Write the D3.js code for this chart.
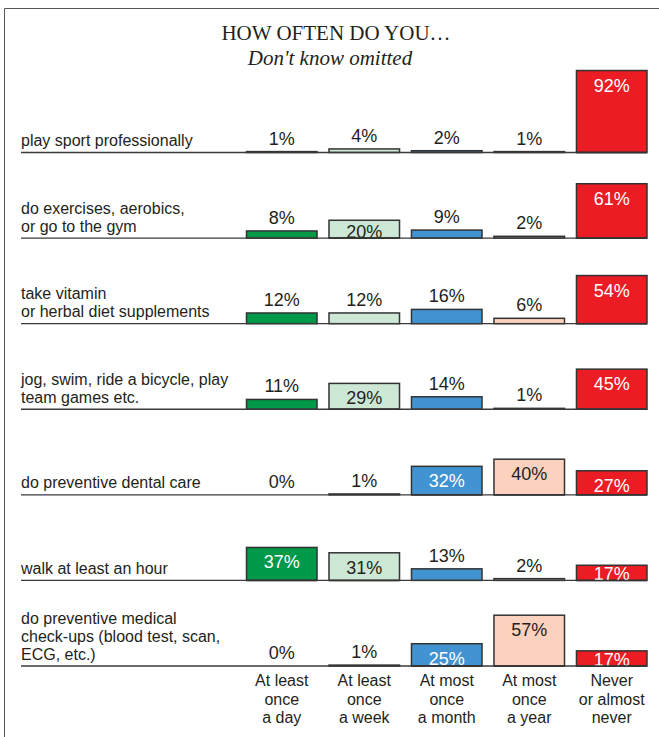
<!DOCTYPE html>
<html>
<head>
<meta charset="utf-8">
<script src="https://cdn.jsdelivr.net/npm/d3@7"></script>
<style>
  html, body { margin: 0; padding: 0; background: #fff; }
  svg { display: block; }
</style>
</head>
<body>
<div id="chart"></div>
<script>
// Activities (row labels, one entry per line of text)
const activities = [
  ["play sport professionally"],
  ["do exercises, aerobics,", "or go to the gym"],
  ["take vitamin", "or herbal diet supplements"],
  ["jog, swim, ride a bicycle, play", "team games etc."],
  ["do preventive dental care"],
  ["walk at least an hour"],
  ["do preventive medical", "check-ups (blood test, scan,", "ECG, etc.)"]
];

// Frequency categories (column labels, one entry per line)
const frequencies = [
  ["At least", "once", "a day"],
  ["At least", "once", "a week"],
  ["At most", "once", "a month"],
  ["At most", "once", "a year"],
  ["Never", "or almost", "never"]
];

// Percent of respondents per activity, one array per frequency
const atLeastDaily   = [1, 8, 12, 11, 0, 37, 0];
const atLeastWeekly  = [4, 20, 12, 29, 1, 31, 1];
const atMostMonthly  = [2, 9, 16, 14, 32, 13, 25];
const atMostYearly   = [1, 2, 6, 1, 40, 2, 57];
const neverOrAlmost  = [92, 61, 54, 45, 27, 17, 17];

const seriesValues = [atLeastDaily, atLeastWeekly, atMostMonthly, atMostYearly, neverOrAlmost];
const seriesColors = ["#009849", "#cde7d5", "#4193d1", "#fcd2bf", "#ec1c24"];
const insideText   = ["#ffffff", "#231f20", "#ffffff", "#231f20", "#ffffff"];

const title = "HOW OFTEN DO YOU\u2026";
const subtitle = "Don't know omitted";

const W = 659, H = 737;
const svg = d3.select("#chart").append("svg")
  .attr("width", W).attr("height", H);

// frame: top and left rules
svg.append("path")
  .attr("d", `M4.5,${H} V8.5 H${W}`)
  .attr("fill", "none").attr("stroke", "#555").attr("stroke-width", 1);

svg.append("text")
  .attr("x", 336).attr("y", 39.5)
  .attr("text-anchor", "middle")
  .attr("font-family", "'Liberation Serif', 'Times New Roman', serif")
  .attr("font-size", 21).attr("fill", "#231f20")
  .text(title);

svg.append("text")
  .attr("x", 330).attr("y", 64.5)
  .attr("text-anchor", "middle")
  .attr("font-family", "'Liberation Serif', 'Times New Roman', serif")
  .attr("font-style", "italic")
  .attr("font-size", 21).attr("fill", "#231f20")
  .text(subtitle);

const colIdx = d3.range(frequencies.length);
const rowIdx = d3.range(activities.length);

const x = d3.scaleBand().domain(colIdx).range([246.5, 647]).paddingInner(0.145).paddingOuter(0);
const rowBase = d3.scalePoint().domain(rowIdx).range([152.5, 666]);
const h = d3.scaleLinear().domain([0, 100]).range([0, 89.1]);

const sans = "'Liberation Sans', Arial, Helvetica, sans-serif";
const ink = "#231f20";

rowIdx.forEach(r => {
  const base = rowBase(r);
  const g = svg.append("g");

  // row label, last line sits just above the rule
  const lines = activities[r];
  g.append("text")
    .attr("font-family", sans).attr("font-size", 16).attr("fill", ink)
    .selectAll("tspan").data(lines).join("tspan")
    .attr("x", 21)
    .attr("y", (d, i) => base - 6.5 - (lines.length - 1 - i) * 18)
    .text(d => d);

  // bars
  colIdx.forEach(c => {
    const v = seriesValues[c][r];
    const top = base - h(v);
    g.append("rect")
      .attr("x", x(c)).attr("y", top)
      .attr("width", x.bandwidth()).attr("height", h(v))
      .attr("fill", seriesColors[c])
      .attr("stroke", "#333").attr("stroke-width", 1.5);
  });

  // baseline rule
  g.append("line")
    .attr("x1", 21).attr("x2", 647)
    .attr("y1", base).attr("y2", base)
    .attr("stroke", "#3a3a3a").attr("stroke-width", 1.3);

  // value labels: inside the bar when it is tall enough, otherwise above it
  colIdx.forEach(c => {
    const v = seriesValues[c][r];
    const top = base - h(v);
    const inside = v >= 17;
    g.append("text")
      .attr("x", x(c) + x.bandwidth() / 2)
      .attr("y", inside ? Math.min(top + 21, base) : top - 7)
      .attr("text-anchor", "middle")
      .attr("font-family", sans).attr("font-size", 18)
      .attr("fill", inside ? insideText[c] : ink)
      .text(v + "%");
  });

  // bar bottoms redrawn over labels that reach the rule
  colIdx.forEach(c => {
    const v = seriesValues[c][r];
    if (v >= 17) {
      g.append("line")
        .attr("x1", x(c)).attr("x2", x(c) + x.bandwidth())
        .attr("y1", base).attr("y2", base)
        .attr("stroke", "#333").attr("stroke-width", 1.5);
    }
  });
});

// column labels under the last row
const lastBase = rowBase(activities.length - 1);
colIdx.forEach(c => {
  svg.append("text")
    .attr("text-anchor", "middle")
    .attr("font-family", sans).attr("font-size", 16).attr("fill", ink)
    .selectAll("tspan").data(frequencies[c]).join("tspan")
    .attr("x", x(c) + x.bandwidth() / 2)
    .attr("y", (d, i) => lastBase + 20 + i * 18.5)
    .text(d => d);
});
</script>
</body>
</html>
